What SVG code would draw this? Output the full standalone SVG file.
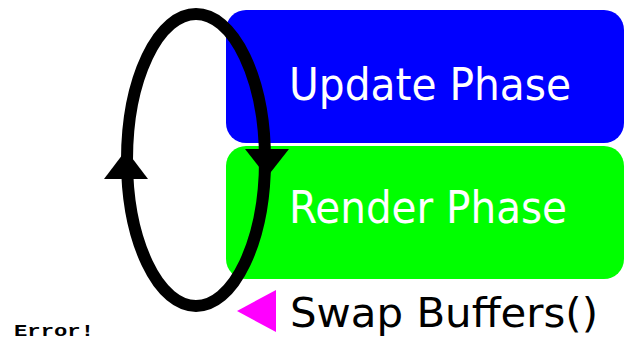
<svg xmlns="http://www.w3.org/2000/svg" width="629" height="341" viewBox="0 0 629 341">
  <style>
    .phase-label { font-family: "DejaVu Sans", "Liberation Sans", sans-serif; font-size: 44px; fill: #ffffff; }
    .swap-label { font-family: "DejaVu Sans", "Liberation Sans", sans-serif; font-size: 41px; fill: #000000; }
    .error-label { font-family: "Liberation Mono", "DejaVu Sans Mono", monospace; font-size: 17px; font-weight: bold; fill: #000000; }
    .loop { fill: none; stroke: #000000; stroke-width: 12; }
    .head { fill: #000000; }
  </style>
  <rect width="629" height="341" fill="#ffffff"/>

  <g id="update-phase">
    <rect x="226" y="10" width="398" height="133" rx="20" ry="20" fill="#0000ff"/>
    <text class="phase-label" x="289" y="100" textLength="282" lengthAdjust="spacingAndGlyphs">Update Phase</text>
  </g>

  <g id="render-phase">
    <rect x="226" y="146" width="398" height="133" rx="20" ry="20" fill="#00ff00"/>
    <text class="phase-label" x="289" y="223" textLength="278" lengthAdjust="spacingAndGlyphs">Render Phase</text>
  </g>

  <g id="swap-buffers">
    <polygon points="237,311 276,290 276,332" fill="#ff00ff"/>
    <text class="swap-label" x="290" y="327" textLength="308" lengthAdjust="spacingAndGlyphs">Swap Buffers()</text>
  </g>

  <g id="connectors">
    <ellipse class="loop" cx="196" cy="160" rx="69" ry="146"/>
    <polygon class="head" points="126,150 104,179 148,179"/>
    <polygon class="head" points="245,149 289,149 267,177"/>
  </g>

  <g id="error">
    <text class="error-label" x="14" y="336" textLength="80" lengthAdjust="spacingAndGlyphs">Error!</text>
  </g>
</svg>
